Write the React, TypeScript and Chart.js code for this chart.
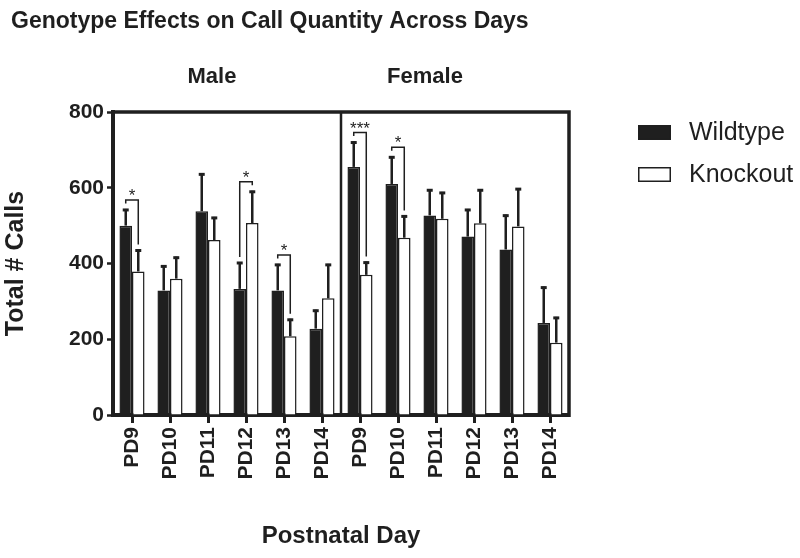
import React, { useEffect, useRef } from 'react';
import { Chart, registerables } from 'chart.js';

Chart.register(...registerables);

// ---- data ----
const categories = ['PD9', 'PD10', 'PD11', 'PD12', 'PD13', 'PD14', 'PD9', 'PD10', 'PD11', 'PD12', 'PD13', 'PD14'];
const groupLabels = ['Male', 'Female'];
const seriesNames = ['Wildtype', 'Knockout'];
const wildtype = [500, 329, 538, 333, 329, 228, 655, 610, 527, 471, 437, 243];
const knockout = [379, 360, 462, 507, 208, 308, 370, 468, 518, 506, 498, 191];
const wildtypeErr = [44, 66, 100, 71, 70, 50, 67, 73, 69, 73, 92, 96];
const knockoutErr = [58, 58, 61, 85, 46, 91, 35, 59, 71, 90, 101, 68];
const sigIndex = [0, 3, 4, 6, 7];
const sigLabel = ['*', '*', '*', '***', '*'];
const yMin = 0;
const yMax = 800;
const yStep = 200;
const titleText = 'Genotype Effects on Call Quantity Across Days';
const yTitle = 'Total # Calls';
const xTitle = 'Postnatal Day';

const INK = '#1f1f1f';
const FONT = '"Liberation Sans", Arial, Helvetica, sans-serif';

const decorPlugin = {
  id: 'decor',
  afterDatasetsDraw(chart: any) {
    const { ctx, scales } = chart;
    const y = scales.y;
    const metaW = chart.getDatasetMeta(0);
    const metaK = chart.getDatasetMeta(1);
    ctx.save();
    ctx.strokeStyle = INK;
    // error bars (upper only)
    const drawErr = (meta: any, vals: number[], errs: number[]) => {
      meta.data.forEach((bar: any, i: number) => {
        const x = bar.x;
        const y0 = y.getPixelForValue(vals[i]);
        const y1 = y.getPixelForValue(vals[i] + errs[i]);
        ctx.lineWidth = 2.5;
        ctx.beginPath();
        ctx.moveTo(x, y0);
        ctx.lineTo(x, y1);
        ctx.stroke();
        ctx.lineWidth = 3;
        ctx.beginPath();
        ctx.moveTo(x - 3, y1 + 1);
        ctx.lineTo(x + 3, y1 + 1);
        ctx.stroke();
      });
    };
    drawErr(metaW, wildtype, wildtypeErr);
    drawErr(metaK, knockout, knockoutErr);

    // significance brackets
    ctx.lineWidth = 1.5;
    sigIndex.forEach((idx, k) => {
      const xw = metaW.data[idx].x;
      const xk = metaK.data[idx].x;
      const tw = y.getPixelForValue(wildtype[idx] + wildtypeErr[idx]);
      const tk = y.getPixelForValue(knockout[idx] + knockoutErr[idx]);
      const top = Math.min(tw, tk) - 9;
      const legW = tw <= tk ? top + 3.5 : tw - 5;
      const legK = tk <= tw ? top + 3.5 : tk - 5;
      ctx.beginPath();
      ctx.moveTo(xw, legW);
      ctx.lineTo(xw, top);
      ctx.lineTo(xk, top);
      ctx.lineTo(xk, legK);
      ctx.stroke();
      ctx.fillStyle = INK;
      ctx.font = `17px ${FONT}`;
      ctx.textAlign = 'center';
      ctx.textBaseline = 'alphabetic';
      ctx.fillText(sigLabel[k], (xw + xk) / 2, top + 1);
    });
    ctx.restore();
  },
  afterDraw(chart: any) {
    const { ctx, chartArea, scales } = chart;
    const x = scales.x;
    ctx.save();
    ctx.strokeStyle = INK;
    // frame top and right
    ctx.lineWidth = 3.5;
    ctx.beginPath();
    ctx.moveTo(chartArea.left - 2, chartArea.top);
    ctx.lineTo(chartArea.right, chartArea.top);
    ctx.lineTo(chartArea.right, chartArea.bottom + 2);
    ctx.stroke();
    // divider between groups
    const half = categories.length / 2;
    const divX = (x.getPixelForValue(half - 1) + x.getPixelForValue(half)) / 2;
    ctx.lineWidth = 2.5;
    ctx.beginPath();
    ctx.moveTo(divX, chartArea.top);
    ctx.lineTo(divX, chartArea.bottom);
    ctx.stroke();

    ctx.fillStyle = INK;
    // title
    ctx.font = `bold 23px ${FONT}`;
    ctx.textAlign = 'left';
    ctx.textBaseline = 'middle';
    ctx.fillText(titleText, 11, 22);
    // group labels
    ctx.font = `bold 22px ${FONT}`;
    ctx.textAlign = 'center';
    ctx.fillText(groupLabels[0], 212, 77);
    ctx.fillText(groupLabels[1], 425, 77);
    // legend
    const boxX = 638;
    const rows = [125, 167];
    rows.forEach((ry, i) => {
      const ds = chart.data.datasets[i];
      ctx.fillStyle = ds.backgroundColor;
      ctx.fillRect(boxX, ry, 33, 14);
      ctx.lineWidth = 1.5;
      ctx.strokeStyle = INK;
      ctx.strokeRect(boxX + 0.75, ry + 0.75, 31.5, 13.5);
      ctx.fillStyle = INK;
      ctx.font = `25px ${FONT}`;
      ctx.textAlign = 'left';
      ctx.textBaseline = 'middle';
      ctx.fillText(seriesNames[i], 689, ry + 8);
    });
    ctx.restore();
  },
};

export default function App() {
  const canvasRef = useRef<HTMLCanvasElement | null>(null);
  useEffect(() => {
    document.body.style.margin = '0';
    const canvas = canvasRef.current;
    if (!canvas) return;
    const chart = new Chart(canvas, {
      type: 'bar',
      data: {
        labels: categories,
        datasets: [
          {
            label: seriesNames[0],
            data: wildtype,
            backgroundColor: INK,
            borderColor: INK,
            borderWidth: 1.5,
            categoryPercentage: 0.66,
            barPercentage: 1,
          },
          {
            label: seriesNames[1],
            data: knockout,
            backgroundColor: '#ffffff',
            borderColor: INK,
            borderWidth: 1.5,
            categoryPercentage: 0.66,
            barPercentage: 1,
          },
        ],
      },
      options: {
        animation: false,
        responsive: false,
        devicePixelRatio: 1,
        layout: { padding: { top: 112, right: 231, left: 0, bottom: 0 } },
        plugins: {
          legend: { display: false },
          title: { display: false },
          tooltip: { enabled: false },
        },
        scales: {
          x: {
            grid: {
              offset: false,
              drawOnChartArea: false,
              drawTicks: true,
              tickLength: 8,
              tickWidth: 3,
              tickColor: INK,
            },
            border: { display: true, width: 4, color: INK },
            ticks: {
              autoSkip: false,
              maxRotation: 90,
              minRotation: 90,
              padding: 4,
              color: INK,
              font: { family: FONT, size: 21, weight: 'bold' },
            },
            title: {
              display: true,
              text: xTitle,
              color: INK,
              font: { family: FONT, size: 24, weight: 'bold' },
              padding: { top: 0, bottom: 7 },
            },
            afterFit(scale: any) {
              scale.height = 143;
            },
          },
          y: {
            min: yMin,
            max: yMax,
            ticks: {
              stepSize: yStep,
              padding: 3,
              color: INK,
              font: { family: FONT, size: 21, weight: 'bold' },
            },
            grid: {
              drawOnChartArea: false,
              drawTicks: true,
              tickLength: 6,
              tickWidth: 2.5,
              tickColor: INK,
            },
            border: { display: true, width: 4, color: INK },
            title: {
              display: true,
              text: yTitle,
              color: INK,
              font: { family: FONT, size: 25, weight: 'bold' },
              padding: { top: 1, bottom: 0 },
            },
            afterFit(scale: any) {
              scale.width = 113;
            },
          },
        },
      },
      plugins: [decorPlugin],
    } as any);
    return () => chart.destroy();
  }, []);
  return (
    <div style={{ width: 800, height: 558 }}>
      <canvas ref={canvasRef} width={800} height={558} />
    </div>
  );
}
